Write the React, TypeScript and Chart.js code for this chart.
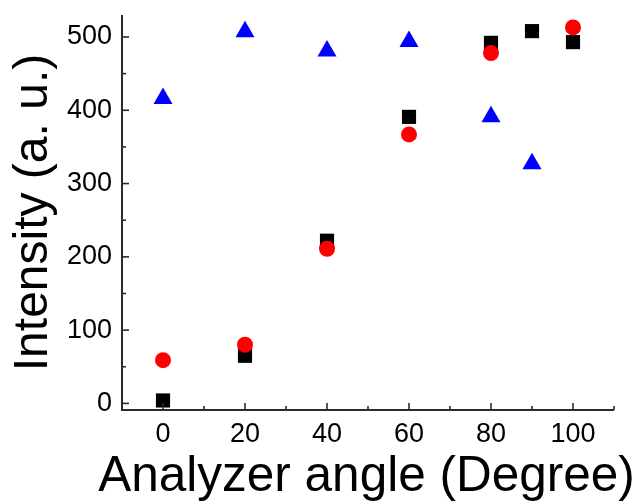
import React, { useEffect, useRef } from "react";
import { Chart, registerables } from "chart.js";

Chart.register(...registerables);

const angles = [0, 20, 40, 60, 80, 90, 100];
const blackSquares = [4, 65, 222, 391, 492, 508, 493];
const redAngles = [0, 20, 40, 60, 80, 100];
const redCircles = [59, 80, 211, 367, 478, 513];
const blueAngles = [0, 20, 40, 60, 80, 90];
const blueTriangles = [416, 507, 481, 494, 391, 327];

const xMajorTicks = [0, 20, 40, 60, 80, 100];
const xMinorTicks = [-10, 10, 30, 50, 70, 90, 110];
const yMajorTicks = [0, 100, 200, 300, 400, 500];
const yMinorTicks = [50, 150, 250, 350, 450];

const xTitle = "Analyzer angle (Degree)";
const yTitle = "Intensity (a. u.)";

const FONT = "'Liberation Sans', Arial, sans-serif";
const AXIS_COLOR = "#2b2b2b";

const ticksPlugin = {
  id: "innerTicks",
  afterDraw(chart: any) {
    const { ctx, chartArea } = chart;
    const xs = chart.scales.x;
    const ys = chart.scales.y;
    ctx.save();
    ctx.strokeStyle = AXIS_COLOR;
    ctx.lineWidth = 2;
    ctx.beginPath();
    ctx.moveTo(chartArea.left, chartArea.top);
    ctx.lineTo(chartArea.left, chartArea.bottom);
    ctx.lineTo(chartArea.right, chartArea.bottom);
    ctx.stroke();
    ctx.lineWidth = 1.6;
    const drawX = (vals: number[], len: number) => {
      vals.forEach((v) => {
        const px = xs.getPixelForValue(v);
        ctx.beginPath();
        ctx.moveTo(px, chartArea.bottom);
        ctx.lineTo(px, chartArea.bottom - len);
        ctx.stroke();
      });
    };
    const drawY = (vals: number[], len: number) => {
      vals.forEach((v) => {
        const py = ys.getPixelForValue(v);
        ctx.beginPath();
        ctx.moveTo(chartArea.left, py);
        ctx.lineTo(chartArea.left + len, py);
        ctx.stroke();
      });
    };
    drawX(xMajorTicks, 7);
    drawX(xMinorTicks, 4);
    drawY(yMajorTicks, 7);
    drawY(yMinorTicks, 4);

    // x-axis title (drawn without width compression)
    ctx.fillStyle = "#000";
    ctx.font = `49.5px ${FONT}`;
    ctx.textAlign = "center";
    ctx.textBaseline = "alphabetic";
    ctx.fillText(xTitle, (chartArea.left + chartArea.right) / 2 - 1.5, xs.bottom - 11);
    ctx.restore();
  },
};

export default function App() {
  const ref = useRef<HTMLCanvasElement>(null);
  useEffect(() => {
    if (!ref.current) return;
    const chart = new Chart(ref.current, {
      type: "scatter",
      data: {
        datasets: [
          {
            label: "blue",
            data: blueAngles.map((x, i) => ({ x, y: blueTriangles[i] })),
            pointStyle: "triangle",
            pointRadius: 11,
            backgroundColor: "#0000ff",
            borderColor: "#0000ff",
            borderWidth: 0,
          },
          {
            label: "red",
            data: redAngles.map((x, i) => ({ x, y: redCircles[i] })),
            pointStyle: "circle",
            pointRadius: 8,
            backgroundColor: "#ff0000",
            borderColor: "#ff0000",
            borderWidth: 0,
          },
          {
            label: "black",
            data: angles.map((x, i) => ({ x, y: blackSquares[i] })),
            pointStyle: "rect",
            pointRadius: 10,
            backgroundColor: "#000000",
            borderColor: "#000000",
            borderWidth: 0,
          },
        ],
      },
      options: {
        animation: false,
        responsive: false,
        maintainAspectRatio: false,
        layout: { padding: { left: 0, top: 15, right: 25, bottom: 0 } },
        plugins: {
          legend: { display: false },
          tooltip: { enabled: false },
        },
        scales: {
          x: {
            type: "linear",
            min: -10,
            max: 110,
            grid: { display: false, drawTicks: false },
            border: { display: false },
            afterFit: (s: any) => {
              s.height = 92;
              s.paddingLeft = 0;
              s.paddingRight = 0;
            },
            afterBuildTicks: (s: any) => {
              s.ticks = xMajorTicks.map((v) => ({ value: v }));
            },
            ticks: {
              color: "#000",
              padding: 8,
              maxRotation: 0,
              font: { family: FONT, size: 27 },
              callback: (v: any) => String(v),
            },
            title: { display: false },
          },
          y: {
            type: "linear",
            min: -9,
            max: 530,
            grid: { display: false, drawTicks: false },
            border: { display: false },
            afterFit: (s: any) => {
              s.width = 122;
              s.paddingTop = 0;
              s.paddingBottom = 0;
            },
            afterBuildTicks: (s: any) => {
              s.ticks = yMajorTicks.map((v) => ({ value: v }));
            },
            ticks: {
              color: "#000",
              padding: 10,
              font: { family: FONT, size: 27 },
              callback: (v: any) => String(v),
            },
            title: {
              display: true,
              text: yTitle,
              color: "#000",
              font: { family: FONT, size: 48 },
              padding: { top: 5, bottom: 0 },
            },
          },
        },
      },
      plugins: [ticksPlugin],
    });
    return () => chart.destroy();
  }, []);
  return (
    <div style={{ position: "absolute", left: 0, top: 0, width: 639, height: 502, background: "#fff" }}>
      <canvas ref={ref} width={639} height={502} style={{ width: 639, height: 502 }} />
    </div>
  );
}
